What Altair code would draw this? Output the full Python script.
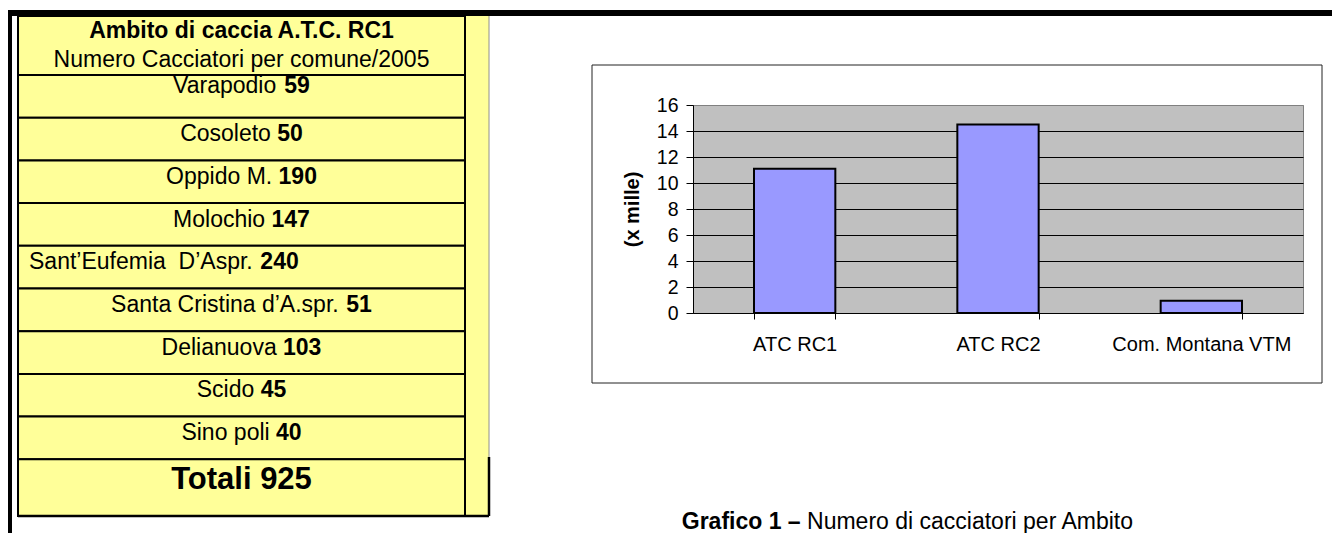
import altair as alt
import pandas as pd

# ------------------------------------------------------------------ data
ambiti = ["ATC RC1", "ATC RC2", "Com. Montana VTM"]
cacciatori_migliaia = [11.1, 14.5, 0.95]
y_ticks = [0, 2, 4, 6, 8, 10, 12, 14, 16]

comuni = ["Varapodio", "Cosoleto", "Oppido M.", "Molochio",
          "Sant\u2019Eufemia\u00a0 D\u2019Aspr.", "Santa Cristina d\u2019A.spr.",
          "Delianuova", "Scido", "Sino poli"]
cacciatori_comune = [59, 50, 190, 147, 240, 51, 103, 45, 40]
totale_label = "Totali"
totale = 925
tabella_titolo = "Ambito di caccia A.T.C. RC1"
tabella_sottotitolo = "Numero Cacciatori per comune/2005"
didascalia_bold = "Grafico 1 \u2013 "
didascalia = "Numero di cacciatori per Ambito"
y_title = "(x mille)"

# ------------------------------------------------------------------ layout / style
FONT = "Liberation Sans"
FS = 23             # table / caption text size
PX0, PY0 = 693, 105  # page position of the plot area origin


def vx(p):
    return p - PX0


def vy(p):
    return p - PY0


# Arial / Liberation Sans advance widths (1/1000 em)
REG = {" ": 278, "\u00a0": 278, "\u2019": 222, ".": 278, "/": 278, "\u2013": 556,
       "A": 667, "C": 722, "D": 722, "E": 667, "M": 833, "N": 722, "O": 778,
       "S": 667, "T": 611, "V": 667, "R": 722, "G": 778,
       "a": 556, "b": 556, "c": 500, "d": 556, "e": 556, "f": 278, "h": 556,
       "i": 222, "l": 222, "m": 833, "n": 556, "o": 556, "p": 556, "r": 333,
       "s": 500, "t": 278, "u": 556, "v": 500}
BOLD = {" ": 278, ".": 278, "\u2013": 556, "A": 722, "C": 722, "G": 778, "R": 722,
        "T": 611, "a": 556, "b": 611, "c": 556, "d": 611, "f": 333, "i": 278,
        "l": 278, "m": 889, "o": 611, "r": 389, "t": 333, "e": 556}


def tw(s, size, bold=False):
    t = BOLD if bold else REG
    return sum(t.get(c, 556) for c in s) * size / 1000.0


# table geometry in table units (1 unit = 1 px, origin at table top-left)
T_LEFT, T_TOP, T_RIGHT, T_BOTTOM = 18, 16, 489, 516
TW_MAIN, TW_ALL, TH = 447, T_RIGHT - T_LEFT, T_BOTTOM - T_TOP
HEADER_H, ROW_H = 59, 42.7
CX = TW_MAIN / 2.0
YELLOW = "#FFFF99"

tx = alt.Scale(domain=[0, TW_ALL], range=[vx(T_LEFT), vx(T_RIGHT)], nice=False, zero=False)
ty = alt.Scale(domain=[0, TH], range=[vy(T_TOP), vy(T_BOTTOM)], nice=False, zero=False)

n_rows = len(comuni)
tops = [0.0] + [HEADER_H + ROW_H * i for i in range(n_rows + 1)]
bottoms = tops[1:] + [TH]
df_cells = pd.DataFrame({"x0": 0, "x1": TW_MAIN, "y0": tops, "y1": bottoms})

name_rows, val_rows = [], []
for i, (n, v) in enumerate(zip(comuni, cacciatori_comune)):
    top = HEADER_H + ROW_H * i
    wn, ws, wv = tw(n, FS), tw(" ", FS), tw(str(v), FS, True)
    start = 11 if i == 4 else CX - (wn + ws + wv) / 2.0
    base = top + (18.0 if i == 0 else 23.5)
    name_rows.append({"x": start, "y": base, "t": n})
    val_rows.append({"x": start + wn + ws, "y": base, "t": str(v)})
df_names = pd.DataFrame(name_rows)
df_vals = pd.DataFrame(val_rows)
df_head1 = pd.DataFrame({"x": [CX], "y": [22], "t": [tabella_titolo]})
df_head2 = pd.DataFrame({"x": [CX], "y": [50.7], "t": [tabella_sottotitolo]})
df_tot = pd.DataFrame({"x": [CX], "y": [473], "t": [f"{totale_label} {totale}"]})

one = pd.DataFrame({"k": [0]})


def table_text(df, align, bold, size):
    return alt.Chart(df).mark_text(
        align=align, baseline="alphabetic", font=FONT, fontSize=size,
        fontWeight="bold" if bold else "normal", color="black"
    ).encode(
        x=alt.X("x:Q", scale=tx, axis=None),
        y=alt.Y("y:Q", scale=ty, axis=None),
        text="t:N",
    )


narrow = alt.Chart(pd.DataFrame({"x0": [TW_MAIN], "x1": [TW_ALL], "y0": [0], "y1": [TH]})).mark_rect(
    fill=YELLOW).encode(
    x=alt.X("x0:Q", scale=tx, axis=None), x2="x1",
    y=alt.Y("y0:Q", scale=ty, axis=None), y2="y1")

cells = alt.Chart(df_cells).mark_rect(fill=YELLOW, stroke="black", strokeWidth=2).encode(
    x=alt.X("x0:Q", scale=tx, axis=None), x2="x1",
    y=alt.Y("y0:Q", scale=ty, axis=None), y2="y1")

edge_gray = alt.Chart(pd.DataFrame({"x": [TW_ALL], "y0": [0], "y1": [441]})).mark_rule(
    color="#909090", strokeWidth=1).encode(
    x=alt.X("x:Q", scale=tx, axis=None),
    y=alt.Y("y0:Q", scale=ty, axis=None), y2="y1")
edge_black = alt.Chart(pd.DataFrame({"x": [TW_ALL], "y0": [441], "y1": [TH]})).mark_rule(
    color="black", strokeWidth=2.5).encode(
    x=alt.X("x:Q", scale=tx, axis=None),
    y=alt.Y("y0:Q", scale=ty, axis=None), y2="y1")
edge_bottom = alt.Chart(pd.DataFrame({"x0": [0], "x1": [TW_ALL], "y": [TH]})).mark_rule(
    color="black", strokeWidth=2.5).encode(
    x=alt.X("x0:Q", scale=tx, axis=None), x2="x1",
    y=alt.Y("y:Q", scale=ty, axis=None))

table = alt.layer(
    narrow, cells, edge_gray, edge_black, edge_bottom,
    table_text(df_head1, "center", True, FS),
    table_text(df_head2, "center", False, FS),
    table_text(df_names, "left", False, FS),
    table_text(df_vals, "left", True, FS),
    table_text(df_tot, "center", True, 31),
)

# page decorations
band = alt.Chart(one).mark_rect(color="black").encode(
    x=alt.value(vx(6)), x2=alt.value(vx(1345)), y=alt.value(vy(10)), y2=alt.value(vy(16)))
leftbar = alt.Chart(one).mark_rect(color="black").encode(
    x=alt.value(vx(6)), x2=alt.value(vx(12)), y=alt.value(vy(10)), y2=alt.value(vy(560)))
frame = alt.Chart(one).mark_rect(fill="transparent", stroke="#222222", strokeWidth=1).encode(
    x=alt.value(vx(592)), x2=alt.value(vx(1322)), y=alt.value(vy(65)), y2=alt.value(vy(383)))

# bar chart
df_bars = pd.DataFrame({"ambito": ambiti, "val": cacciatori_migliaia})
bars = alt.Chart(df_bars).mark_bar(color="#9999FF", stroke="black", strokeWidth=2).encode(
    x=alt.X("ambito:N", sort=ambiti,
            scale=alt.Scale(paddingInner=0.6, paddingOuter=0.3),
            axis=alt.Axis(title=None, labelAngle=0, labelFont=FONT, labelFontSize=20,
                          labelColor="black", tickBand="extent", tickColor="black",
                          tickSize=6, domainColor="black", labelPadding=15, grid=False)),
    y=alt.Y("val:Q", scale=alt.Scale(domain=[0, 16], nice=False),
            axis=alt.Axis(values=y_ticks, title=y_title, titleFont=FONT, titleFontSize=20,
                          titleFontWeight="bold", titleColor="black", titleX=-61, titleY=104,
                          titleAngle=270, titleAlign="center", titleBaseline="middle",
                          labelFont=FONT, labelFontSize=19.5, labelColor="black",
                          labelPadding=8, tickSize=7, tickColor="black",
                          domainColor="black", grid=True, gridWidth=1,
                          gridColor={"condition": {"test": "datum.value === 16", "value": "#808080"},
                                     "value": "black"})),
)

# caption
cap_w_b = tw(didascalia_bold, FS, True)
cap_w = cap_w_b + tw(didascalia, FS)
cap_x = vx(908) - cap_w / 2.0
cap_y = vy(529)
cap_b = alt.Chart(one).mark_text(align="left", baseline="alphabetic", font=FONT, fontSize=FS,
                                 fontWeight="bold", color="black", text=didascalia_bold.strip()).encode(
    x=alt.value(cap_x), y=alt.value(cap_y))
cap_r = alt.Chart(one).mark_text(align="left", baseline="alphabetic", font=FONT, fontSize=FS,
                                 color="black", text=didascalia).encode(
    x=alt.value(cap_x + cap_w_b), y=alt.value(cap_y))

chart = alt.layer(band, leftbar, frame, table, bars, cap_b, cap_r).resolve_scale(
    x="independent", y="independent"
).properties(
    width=610, height=208,
    padding={"left": 685, "top": 97, "right": 29, "bottom": 220},
    autosize=alt.AutoSizeParams(type="none"),
).configure(font=FONT).configure_view(fill="#C0C0C0", stroke="#808080", strokeWidth=1)

chart.save("out.html", embed_options={"renderer": "svg", "actions": False})
